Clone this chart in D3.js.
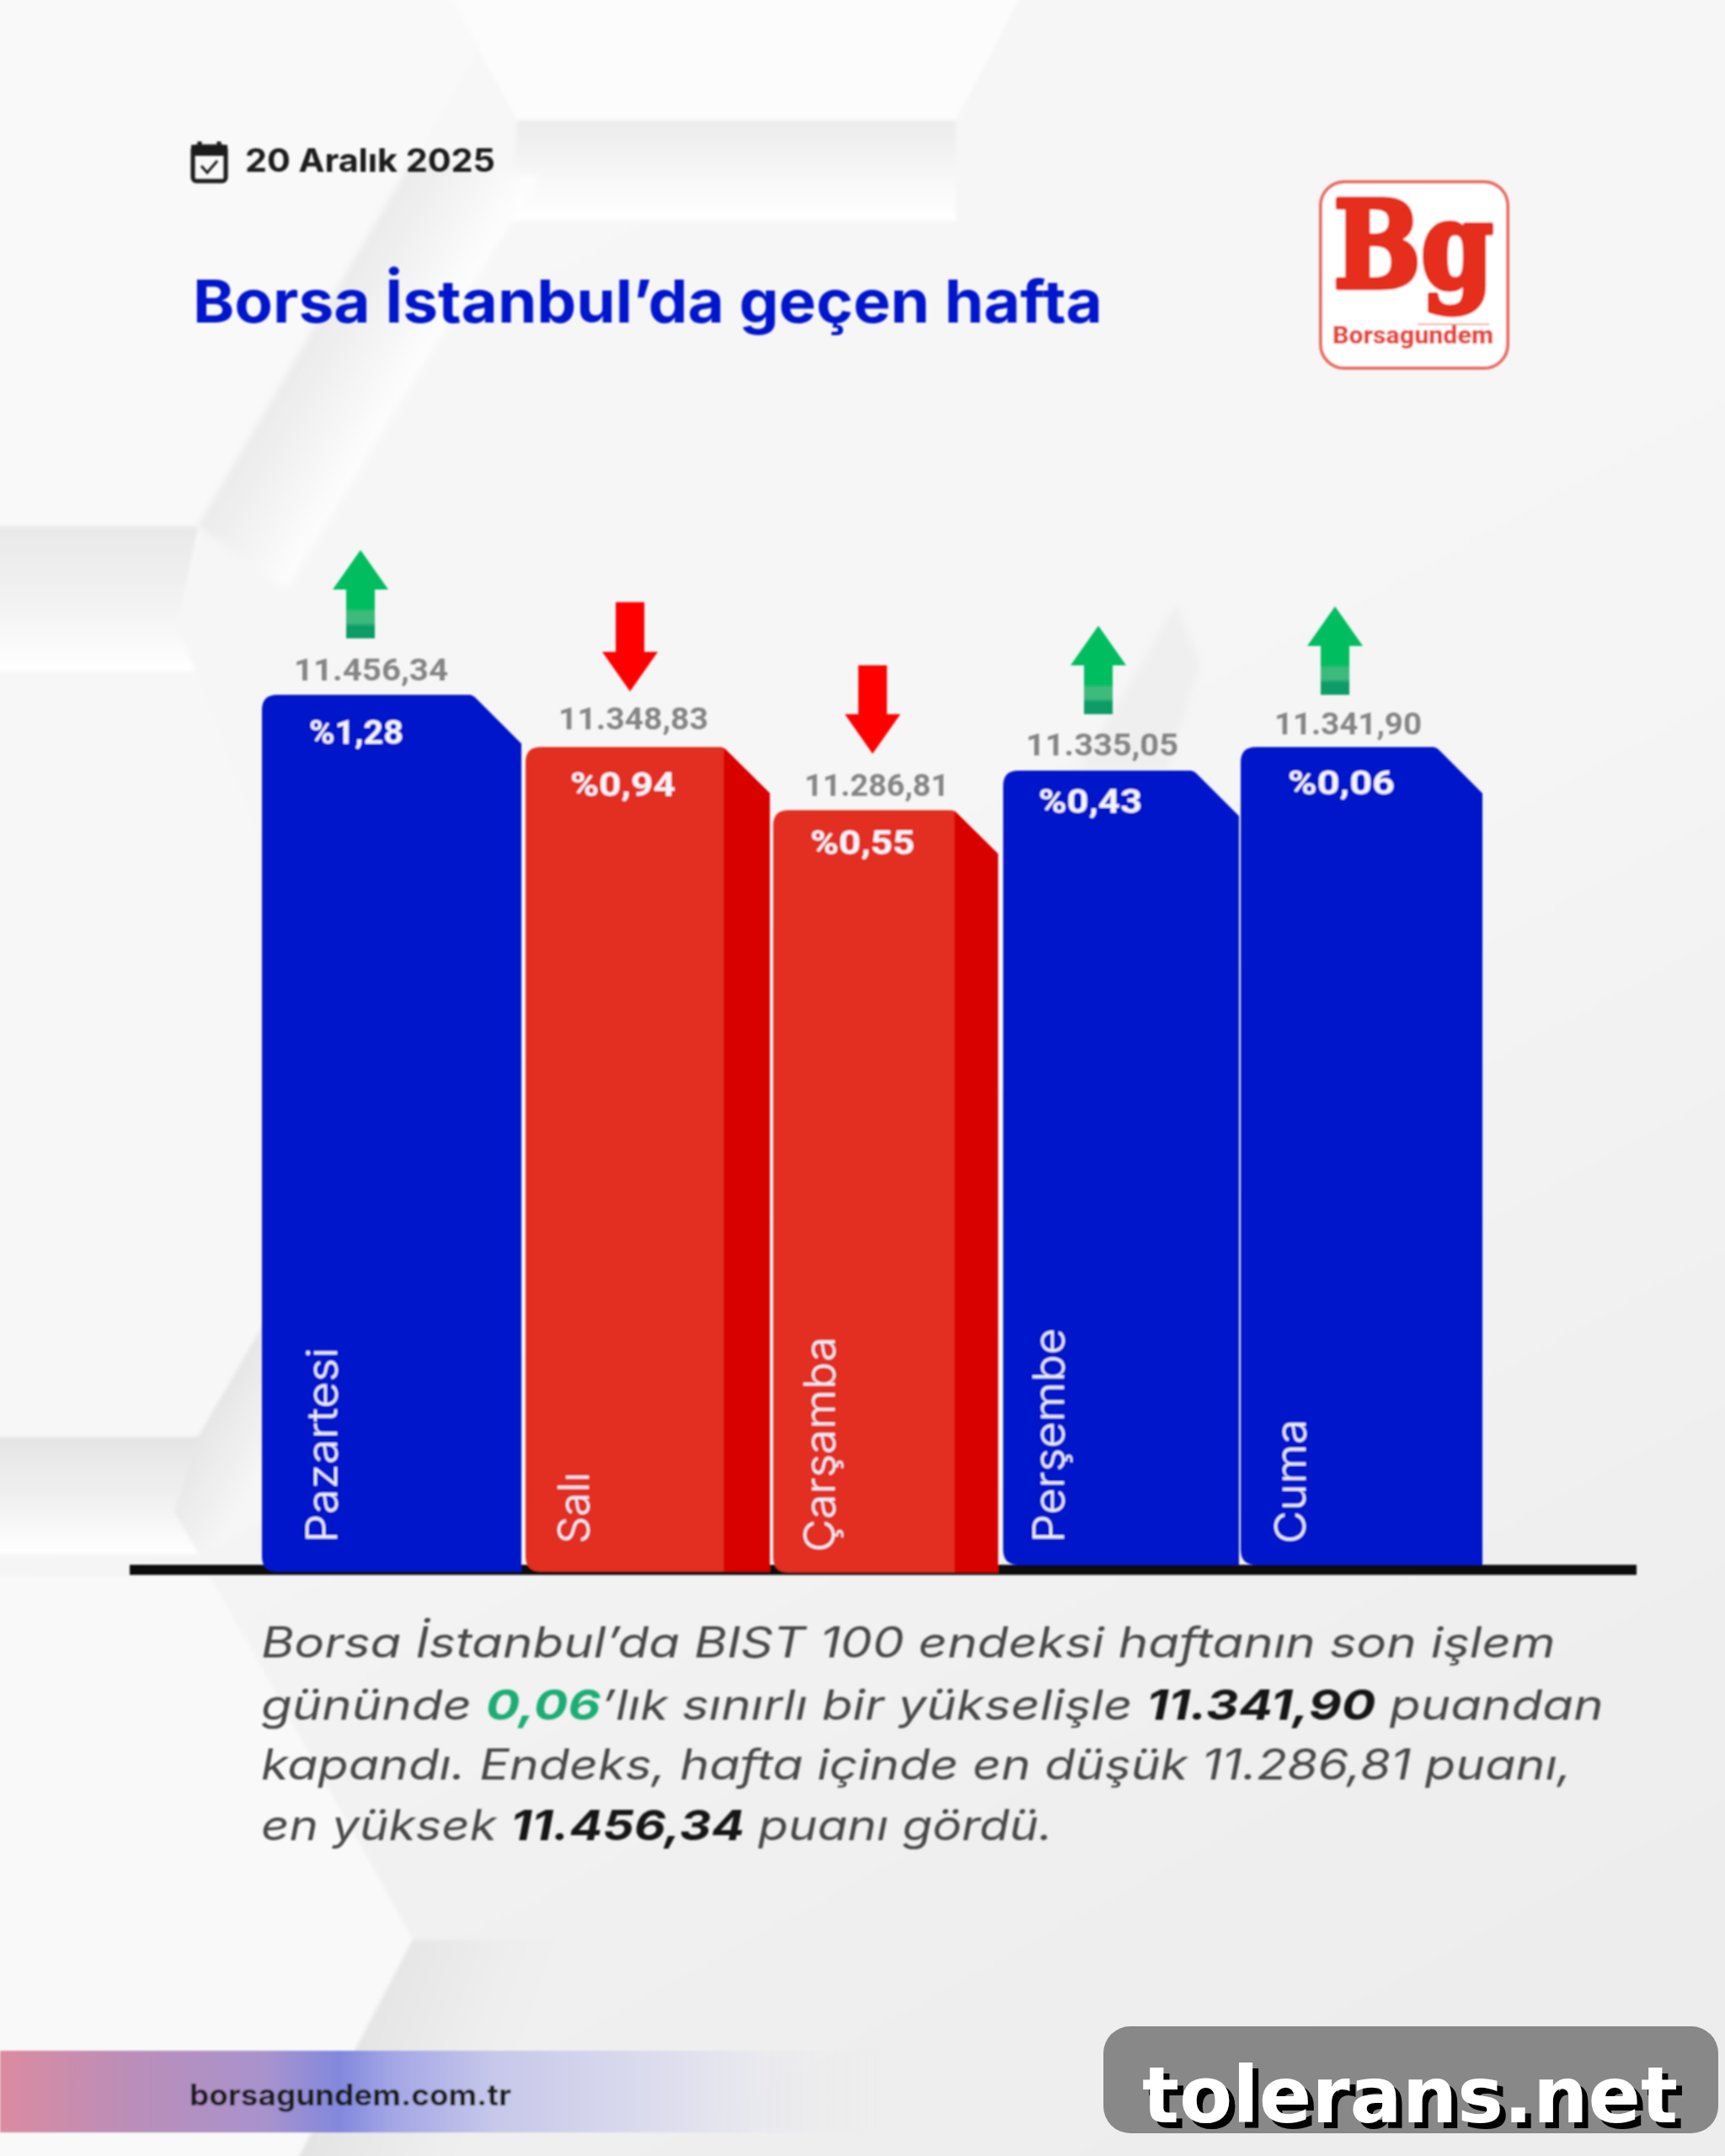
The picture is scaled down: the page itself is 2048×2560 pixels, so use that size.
<!DOCTYPE html>
<html lang="tr">
<head>
<meta charset="utf-8">
<title>Borsa İstanbul'da geçen hafta</title>
<script src="https://cdn.jsdelivr.net/npm/d3@7/dist/d3.min.js"></script>
<style>
  html, body { margin: 0; padding: 0; background: #f5f5f5; }
  svg { display: block; }
</style>
</head>
<body>
<svg id="chart" width="2048" height="2560" viewBox="0 0 2048 2560"></svg>
<script>
// ---------- data ----------
const days = ["Pazartesi", "Salı", "Çarşamba", "Perşembe", "Cuma"];
const closes = [11456.34, 11348.83, 11286.81, 11335.05, 11341.90];
const changes = [1.28, -0.94, -0.55, 0.43, 0.06];

const titleText = "Borsa İstanbul’da geçen hafta";
const dateText = "20 Aralık 2025";
const siteText = "borsagundem.com.tr";
const watermarkText = "tolerans.net";
const bodyLines = [
  [["Borsa İstanbul’da BIST 100 endeksi haftanın son işlem", "n"]],
  [["gününde ", "n"], ["0,06", "g"], ["’lık sınırlı bir yükselişle ", "n"], ["11.341,90", "b"], [" puandan", "n"]],
  [["kapandı. Endeks, hafta içinde en düşük 11.286,81 puanı,", "n"]],
  [["en yüksek ", "n"], ["11.456,34", "b"], [" puanı gördü.", "n"]]
];

// ---------- layout (not data) ----------
const barLeftPx   = [311, 624, 918, 1191, 1473];
const barRightPx  = [619, 914, 1185, 1471, 1760];
const barBottomPx = [1866, 1866, 1867, 1858, 1858];
const chamferPx   = [58, 55, 52, 54, 55];
const valueBox    = [[349, 532, 808], [663, 841, 866], [955, 1127, 945], [1218, 1399, 897], [1513, 1688, 872]];
const pctBox      = [[367, 479, 883], [677, 802, 945], [962, 1086, 1014], [1233, 1356, 965], [1529, 1656, 943]];
const dayBox      = [[400, 1832, 232], [699, 1833, 85], [991, 1843, 256], [1263, 1832, 255], [1550, 1833, 148]];
const arrowBox    = [[428, 653, 758], [748, 715, 821], [1036, 790, 895], [1304, 743, 848], [1585, 720, 825]];

// ---------- scales ----------
const fmtTR = d3.formatLocale({ decimal: ",", thousands: ".", grouping: [3], currency: ["", ""] });
const fmtValue = fmtTR.format(",.2f");
const fmtPct = fmtTR.format(".2f");

// Bars in the source graphic are illustrative, not linear: a piecewise scale reproduces their height
const sorted = closes.slice().sort(d3.ascending);
const y = d3.scaleLinear().domain(sorted).range([962, 915, 887, 887, 825]);
const xLeft = d3.scaleOrdinal().domain(days).range(barLeftPx);
const xRight = d3.scaleOrdinal().domain(days).range(barRightPx);

const rows = days.map((day, i) => ({ day, close: closes[i], change: changes[i], i }));

const COLORS = {
  blue: "#0413CA", red: "#E32D20", redDark: "#D90000", up: "#00BD60", down: "#FF0000",
  title: "#0618CC", value: "#858585", ink: "#1a1a1a", body: "#4a4a4a", green: "#1FAD75", logo: "#E52D1E"
};

const svg = d3.select("#chart");
const defs = svg.append("defs");

function blur(id, s) {
  defs.append("filter").attr("id", id).attr("filterUnits", "userSpaceOnUse")
    .attr("x", 0).attr("y", 0).attr("width", 2048).attr("height", 2560)
    .append("feGaussianBlur").attr("stdDeviation", s);
}
blur("soft", 1.3);
blur("bgsoft", 2);
blur("bgsofter", 5);

function gradient(id, x1, y1, x2, y2, stops) {
  const g = defs.append("linearGradient").attr("id", id).attr("gradientUnits", "userSpaceOnUse")
    .attr("x1", x1).attr("y1", y1).attr("x2", x2).attr("y2", y2);
  stops.forEach(([o, c, a]) => g.append("stop").attr("offset", o).attr("stop-color", c).attr("stop-opacity", a === undefined ? 1 : a));
}
gradient("bgBase", 0, 0, 1400, 2560, [[0, "#f8f8f8"], [0.55, "#f5f5f5"], [1, "#ededed"]]);
gradient("diagBand", 235, 625, 351, 694, [[0, "#ebebeb"], [0.55, "#f5f5f5"], [1, "#fefefe"]]);
gradient("leftBand1", 0, 625, 0, 797, [[0, "#e8e8e8"], [0.6, "#f4f4f4"], [1, "#ffffff"]]);
gradient("topBand", 0, 143, 0, 262, [[0, "#ececec"], [0.55, "#f7f7f7"], [1, "#ffffff"]]);
gradient("leftBand2", 0, 1706, 0, 1845, [[0, "#e4e4e4"], [0.55, "#f1f1f1"], [1, "#ffffff"]]);
gradient("lowerDiag", 235, 1706, 310, 1750, [[0, "#e6e6e6"], [1, "#f6f6f6"]]);
gradient("bottomDiag", 350, 2560, 520, 2620, [[0, "#e3e3e3"], [1, "#efefef"]]);
gradient("stripeBand", 0, 0, 1050, 0, [
  [0, "#dc8ba0"], [0.14, "#bc8eb8"], [0.30, "#a893cd"], [0.385, "#8288dd"], [0.44, "#a2a5e5"], [0.56, "#c7c8ea"], [0.80, "#e3e3ef"], [1, "#eeeeee", 0]
]);
const arrowGrad = defs.append("linearGradient").attr("id", "arrowUp").attr("x1", 0).attr("y1", 0).attr("x2", 0).attr("y2", 1);
[[0, COLORS.up], [0.66, COLORS.up], [0.70, "#3dba7c"], [0.82, "#3dba7c"], [0.87, "#0d9b68"], [1, "#0d9b68"]]
  .forEach(([o, c]) => arrowGrad.append("stop").attr("offset", o).attr("stop-color", c));

// ---------- background ----------
const bg = svg.append("g").attr("filter", "url(#bgsoft)");
bg.append("rect").attr("x", -10).attr("y", -10).attr("width", 2068).attr("height", 2580).attr("fill", "url(#bgBase)");
const poly = (pts, fill, parent) => (parent || bg).append("polygon").attr("points", pts.map(p => p.join(",")).join(" ")).attr("fill", fill);
poly([[-10, -10], [532, -10], [567, 60], [235, 625], [-10, 625]], "#f9f9f9");
poly([[532, -10], [1215, -10], [1135, 143], [614, 143]], "#fcfcfc");
poly([[614, 143], [1135, 143], [1135, 262], [607, 262]], "url(#topBand)");
poly([[1215, -10], [1290, -10], [1200, 262], [1135, 262], [1135, 143]], "#f6f6f6");
const bgBlurred = svg.append("g").attr("filter", "url(#bgsofter)");
poly([[490, 190], [235, 625], [340, 700], [607, 262], [640, 210]], "url(#diagBand)", bgBlurred);
poly([[-10, 625], [235, 625], [210, 746], [232, 797], [-10, 797]], "url(#leftBand1)");
poly([[-10, 797], [232, 797], [310, 1000], [310, 1580], [235, 1706], [-10, 1706]], "#f7f7f7");
poly([[-10, 1706], [235, 1706], [207, 1795], [236, 1845], [-10, 1845]], "url(#leftBand2)");
poly([[235, 1706], [320, 1560], [320, 1800], [236, 1845], [207, 1795]], "url(#lowerDiag)");
poly([[-10, 1872], [250, 1872], [490, 2303], [350, 2570], [-10, 2570]], "#f9f9f9");
poly([[490, 2303], [660, 2303], [560, 2570], [350, 2570]], "url(#bottomDiag)");
poly([[1397, 716], [1425, 790], [1385, 915], [1280, 915]], "#efefef", bgBlurred);

// ---------- content (slightly soft, like the source) ----------
const soft = svg.append("g").attr("filter", "url(#soft)");
const baseFont = "Inter, 'Noto Sans', sans-serif";

// Stretch a text horizontally (wide geometric lettering) so it spans the measured width
function fit(sel, width, base) {
  sel.each(function () {
    const t = d3.select(this);
    const k = width / this.getComputedTextLength();
    const start = base || `translate(${t.attr("x") || 0},${t.attr("y") || 0})`;
    t.attr("x", null).attr("y", null).attr("transform", `${start} scale(${k},1)`);
  });
  return sel;
}

// footer band
soft.append("rect").attr("x", 0).attr("y", 2435).attr("width", 1050).attr("height", 97).attr("fill", "url(#stripeBand)");
fit(soft.append("text").attr("x", 225).attr("y", 2500).attr("font-family", baseFont)
  .attr("font-weight", 700).attr("font-size", 35).attr("fill", COLORS.ink).text(siteText), 382);

// date + calendar icon
const cal = soft.append("g").attr("fill", "none").attr("stroke", "#1a1a1a");
cal.append("rect").attr("x", 229).attr("y", 174).attr("width", 39).attr("height", 41).attr("rx", 4).attr("stroke-width", 5);
cal.append("rect").attr("x", 229).attr("y", 174).attr("width", 39).attr("height", 9).attr("fill", "#1a1a1a").attr("stroke-width", 4);
cal.append("path").attr("d", d3.line()([[237, 168], [237, 176]])).attr("stroke-width", 5);
cal.append("path").attr("d", d3.line()([[260, 168], [260, 176]])).attr("stroke-width", 5);
cal.append("path").attr("d", d3.line()([[239, 197], [246, 205], [258, 191]])).attr("stroke-width", 3);
fit(soft.append("text").attr("x", 291).attr("y", 204).attr("font-family", baseFont)
  .attr("font-weight", 700).attr("font-size", 38).attr("fill", COLORS.ink).text(dateText), 297);

// title
fit(soft.append("text").attr("x", 229).attr("y", 383).attr("font-family", baseFont)
  .attr("font-weight", 700).attr("font-size", 70).attr("fill", COLORS.title).text(titleText), 1080);

// logo
soft.append("rect").attr("x", 1568).attr("y", 216).attr("width", 222).attr("height", 221).attr("rx", 28)
  .attr("fill", "#ffffff").attr("stroke", "#ea6a60").attr("stroke-width", 4);
soft.append("text").attr("x", 1583).attr("y", 341).attr("font-family", "'DejaVu Serif', serif")
  .attr("font-weight", 700).attr("font-size", 143).attr("fill", COLORS.logo)
  .attr("stroke", COLORS.logo).attr("stroke-width", 7).attr("stroke-linejoin", "round")
  .attr("textLength", 190).attr("lengthAdjust", "spacingAndGlyphs").text("Bg");
soft.append("text").attr("x", 1582).attr("y", 408).attr("font-family", "Roboto, sans-serif")
  .attr("font-weight", 900).attr("font-size", 29).attr("fill", "#e5473c")
  .attr("textLength", 191).attr("lengthAdjust", "spacingAndGlyphs").text("Borsagundem");
soft.append("path").attr("d", d3.line()([[1683, 385], [1768, 385]])).attr("stroke", "#ea8a82").attr("stroke-width", 1.5);

// baseline
soft.append("rect").attr("x", 154).attr("y", 1858).attr("width", 1789).attr("height", 12).attr("fill", "#0b0b0b");

// bars
function barPath(d) {
  const i = d.i, l = xLeft(d.day), r = xRight(d.day), t = y(d.close), b = barBottomPx[i], c = chamferPx[i];
  const rad = 18, p = d3.path();
  p.moveTo(l + rad, t);
  p.lineTo(r - c - 4, t);
  p.quadraticCurveTo(r - c, t, r - c + 4, t + 4);
  p.lineTo(r, t + c);
  p.lineTo(r, b);
  p.lineTo(l + rad, b);
  p.quadraticCurveTo(l, b, l, b - rad);
  p.lineTo(l, t + rad);
  p.quadraticCurveTo(l, t, l + rad, t);
  p.closePath();
  return p.toString();
}
function sidePath(d) {
  const i = d.i, r = xRight(d.day), t = y(d.close), b = barBottomPx[i], c = chamferPx[i];
  const p = d3.path();
  p.moveTo(r - c, t + 1);
  p.lineTo(r, t + c);
  p.lineTo(r, b);
  p.lineTo(r - c, b);
  p.closePath();
  return p.toString();
}
soft.selectAll("path.bar").data(rows).join("path").attr("class", "bar")
  .attr("d", barPath).attr("fill", d => d.change >= 0 ? COLORS.blue : COLORS.red);
soft.selectAll("path.side").data(rows.filter(d => d.change < 0)).join("path").attr("class", "side")
  .attr("d", sidePath).attr("fill", COLORS.redDark);

// value labels
soft.selectAll("text.value").data(rows).join("text").attr("class", "value")
  .attr("x", d => valueBox[d.i][0]).attr("y", d => valueBox[d.i][2])
  .attr("font-family", "Roboto, sans-serif").attr("font-weight", 700).attr("font-size", 37)
  .attr("fill", COLORS.value).text(d => fmtValue(d.close))
  .each(function (d) { fit(d3.select(this), valueBox[d.i][1] - valueBox[d.i][0]); });

// percent labels
soft.selectAll("text.pct").data(rows).join("text").attr("class", "pct")
  .attr("x", d => pctBox[d.i][0]).attr("y", d => pctBox[d.i][2])
  .attr("font-family", "Roboto, sans-serif").attr("font-weight", 700).attr("font-size", 38)
  .attr("fill", "#f4f4fb").text(d => "%" + fmtPct(Math.abs(d.change)))
  .each(function (d) { fit(d3.select(this), pctBox[d.i][1] - pctBox[d.i][0]); });

// day labels
soft.selectAll("text.day").data(rows).join("text").attr("class", "day")
  .attr("font-family", baseFont).attr("font-weight", 300).attr("font-size", 50)
  .attr("fill", "#eef0fb").text(d => d.day)
  .each(function (d) {
    fit(d3.select(this), dayBox[d.i][2], `translate(${dayBox[d.i][0]},${dayBox[d.i][1]}) rotate(-90)`);
  });

// arrows
function arrowPath(d) {
  const [cx, y0, y1] = arrowBox[d.i], up = d.change >= 0, hw = 33, sw = 17, head = 47;
  const tip = up ? y0 : y1, tail = up ? y1 : y0, s = up ? 1 : -1, hb = tip + s * head;
  const p = d3.path();
  p.moveTo(cx, tip);
  p.lineTo(cx + hw, hb);
  p.lineTo(cx + sw, hb);
  p.lineTo(cx + sw, tail);
  p.lineTo(cx - sw, tail);
  p.lineTo(cx - sw, hb);
  p.lineTo(cx - hw, hb);
  p.closePath();
  return p.toString();
}
soft.selectAll("path.arrow").data(rows).join("path").attr("class", "arrow")
  .attr("d", arrowPath).attr("fill", d => d.change >= 0 ? "url(#arrowUp)" : COLORS.down);

// body text
const lineBaselines = [1968, 2042, 2113, 2185];
const lineWidths = [1537, 1594, 1556, 940];
const segStyle = {
  n: { w: 400, c: COLORS.body },
  b: { w: 700, c: "#141414" },
  g: { w: 700, c: COLORS.green }
};
bodyLines.forEach((segs, i) => {
  const t = soft.append("text").attr("x", 310).attr("y", lineBaselines[i])
    .attr("font-family", baseFont).attr("font-style", "italic").attr("font-size", 50)
    .attr("xml:space", "preserve").style("white-space", "pre");
  segs.forEach(([txt, k]) => t.append("tspan").attr("font-weight", segStyle[k].w).attr("fill", segStyle[k].c).text(txt));
  fit(t, lineWidths[i]);
});

// watermark (sharp in the source)
const wm = svg.append("g");
wm.append("rect").attr("x", 1310).attr("y", 2406).attr("width", 730).attr("height", 127).attr("rx", 32).attr("fill", "#888888");
wm.append("text").attr("x", 1356).attr("y", 2520)
  .attr("font-family", "'DejaVu Sans', sans-serif").attr("font-weight", 700).attr("font-size", 92)
  .attr("fill", "#ffffff").attr("textLength", 636).attr("lengthAdjust", "spacingAndGlyphs")
  .style("filter", "drop-shadow(7px 7px 0 #000)").text(watermarkText);
</script>
</body>
</html>
